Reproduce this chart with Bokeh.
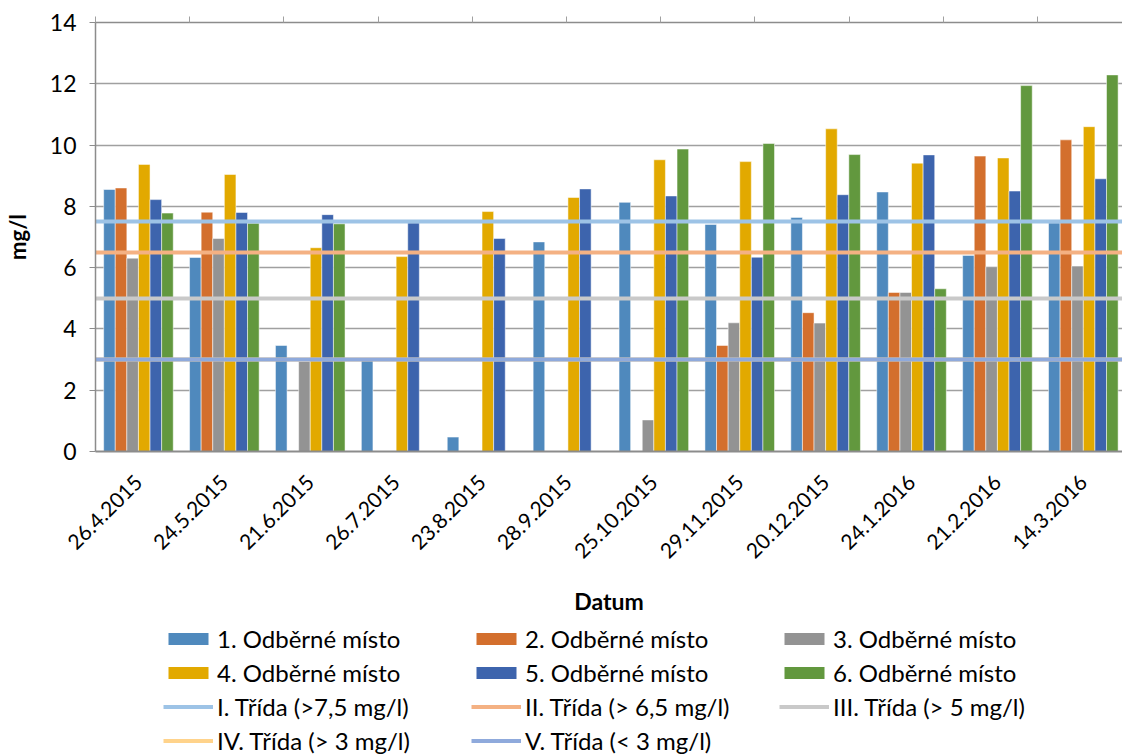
import math
from bokeh.plotting import figure
from bokeh.layouts import column
from bokeh.models import (ColumnDataSource, Range1d, Legend, LegendItem, FixedTicker,
                          LinearAxis)
from bokeh.transform import dodge
from bokeh.embed import file_html
from bokeh.resources import INLINE

nan = float("nan")

dates = ["26.4.2015", "24.5.2015", "21.6.2015", "26.7.2015", "23.8.2015", "28.9.2015",
         "25.10.2015", "29.11.2015", "20.12.2015", "24.1.2016", "21.2.2016", "14.3.2016"]

site1 = [8.55, 6.33, 3.46, 3.0, 0.47, 6.84, 8.13, 7.41, 7.64, 8.47, 6.40, 7.46]
site2 = [8.60, 7.81, nan, nan, nan, nan, nan, 3.46, 4.53, 5.19, 9.64, 10.17]
site3 = [6.31, 6.95, 2.94, nan, nan, nan, 1.03, 4.20, 4.19, 5.19, 6.03, 6.05]
site4 = [9.37, 9.04, 6.65, 6.36, 7.83, 8.29, 9.52, 9.46, 10.53, 9.41, 9.58, 10.60]
site5 = [8.22, 7.80, 7.73, 7.46, 6.95, 8.57, 8.34, 6.34, 8.38, 9.68, 8.50, 8.90]
site6 = [7.78, 7.45, 7.43, nan, nan, nan, 9.87, 10.05, 9.69, 5.31, 11.94, 12.29]

series_names = ["1. Odběrné místo", "2. Odběrné místo", "3. Odběrné místo",
                "4. Odběrné místo", "5. Odběrné místo", "6. Odběrné místo"]
series_colors = ["#4F89BD", "#D36F2D", "#939393", "#E2A900", "#3D64AD", "#62983E"]

class_names = ["I. Třída (>7,5 mg/l)", "II. Třída (> 6,5 mg/l)", "III. Třída (> 5 mg/l)",
               "IV. Třída (> 3 mg/l)", "V. Třída (< 3 mg/l)"]
class_limits = [7.5, 6.5, 5.0, 3.0, 3.0]
class_colors = ["#9DC3E6", "#F4B183", "#C9C9C9", "#FFD38B", "#8FAADC"]

y_ticks = [0, 2, 4, 6, 8, 10, 12, 14]

FONT = "Lato"

# category centres on a numeric axis (the plot area is slightly cut at the right, as in the original)
centers = [i + 0.5 for i in range(len(dates))]
source = ColumnDataSource(dict(xc=centers, s1=site1, s2=site2, s3=site3,
                               s4=site4, s5=site5, s6=site6))

p1 = figure(width=1122, height=620, output_backend="svg", toolbar_location=None,
            x_range=Range1d(0, 11.956), y_range=Range1d(0, 14),
            min_border_left=95, min_border_right=0, min_border_top=22,
            min_border_bottom=169)
p1.outline_line_color = None

bar_w = 0.135
cols = ["s1", "s2", "s3", "s4", "s5", "s6"]
for i, c in enumerate(cols):
    off = (i - 2.5) * bar_w
    p1.vbar(x=dodge("xc", off), top=c, width=bar_w, bottom=0,
            source=source, fill_color=series_colors[i], line_color="white",
            line_alpha=0.5, line_width=1)

for lim, col in zip(class_limits, class_colors):
    p1.hspan(y=[lim], line_color=col, line_width=4)

# secondary (top) category axis of the class lines: only its tick marks show
sec_ticks = list(range(11))
p1.extra_x_ranges = {"sec": Range1d(0, 10.902)}
top_axis = LinearAxis(x_range_name="sec", ticker=FixedTicker(ticks=sec_ticks),
                      major_label_text_color=None,
                      major_label_overrides={t: "" for t in sec_ticks},
                      axis_line_color="#8C8C8C",
                      axis_line_width=1.5, major_tick_line_color="#A0A0A0",
                      major_tick_in=0, major_tick_out=6, minor_tick_line_color=None)
p1.add_layout(top_axis, "above")

# axes
p1.yaxis.ticker = FixedTicker(ticks=y_ticks)
p1.yaxis.axis_label = "mg/l"
p1.yaxis.axis_label_text_font = FONT
p1.yaxis.axis_label_text_font_style = "bold"
p1.yaxis.axis_label_text_font_size = "22px"
p1.yaxis.axis_label_text_color = "black"
p1.yaxis.axis_label_standoff = 16
p1.yaxis.major_label_text_font = FONT
p1.yaxis.major_label_text_font_size = "23px"
p1.yaxis.major_label_text_color = "black"
p1.yaxis.major_label_standoff = 13
p1.yaxis.axis_line_color = "#8C8C8C"
p1.yaxis.axis_line_width = 1.5
p1.yaxis.major_tick_line_color = "#8C8C8C"
p1.yaxis.major_tick_in = 0
p1.yaxis.major_tick_out = 6
p1.yaxis.minor_tick_line_color = None

xb = p1.below[0]
xb.ticker = FixedTicker(ticks=centers)
xb.major_label_overrides = {c: d for c, d in zip(centers, dates)}
xb.axis_label = "Datum"
xb.axis_label_text_font = FONT
xb.axis_label_text_font_style = "bold"
xb.axis_label_text_font_size = "23px"
xb.axis_label_text_color = "black"
xb.axis_label_standoff = 19
xb.major_label_text_font = FONT
xb.major_label_text_font_size = "21px"
xb.major_label_text_color = "black"
xb.major_label_orientation = math.pi / 4
xb.major_label_standoff = 21
xb.axis_line_color = "#8C8C8C"
xb.axis_line_width = 2
xb.major_tick_line_color = None
xb.minor_tick_line_color = None

p1.xgrid.grid_line_color = None
p1.ygrid.grid_line_color = "#A0A0A0"
p1.ygrid.grid_line_width = 1.3

# legend figure
p2 = figure(width=1122, height=135, output_backend="svg", toolbar_location=None,
            x_range=Range1d(0, 1), y_range=Range1d(0, 1),
            x_axis_type=None, y_axis_type=None,
            min_border_left=0, min_border_right=0, min_border_top=0, min_border_bottom=0)
p2.outline_line_color = None
p2.xgrid.visible = False
p2.ygrid.visible = False

items = []
for name, col in zip(series_names, series_colors):
    r = p2.vbar(x=[-5], top=[0], width=0, fill_color=col, line_color=None)
    items.append(LegendItem(label=name, renderers=[r]))
for name, col in zip(class_names, class_colors):
    r = p2.line(x=[-5, -4], y=[0, 0], line_color=col, line_width=4)
    items.append(LegendItem(label=name, renderers=[r]))

legend = Legend(items=items, location=(68, 0), orientation="horizontal", ncols=3,
                label_text_font=FONT, label_text_font_size="24px",
                label_text_color="black", glyph_width=50, glyph_height=15,
                label_height=20, label_width=249, label_standoff=4, spacing=5,
                padding=0, margin=0, border_line_color=None,
                background_fill_alpha=0)
p2.add_layout(legend, "center")

layout = column(p1, p2, spacing=0)
open("out.html", "w").write(file_html(layout, INLINE))
